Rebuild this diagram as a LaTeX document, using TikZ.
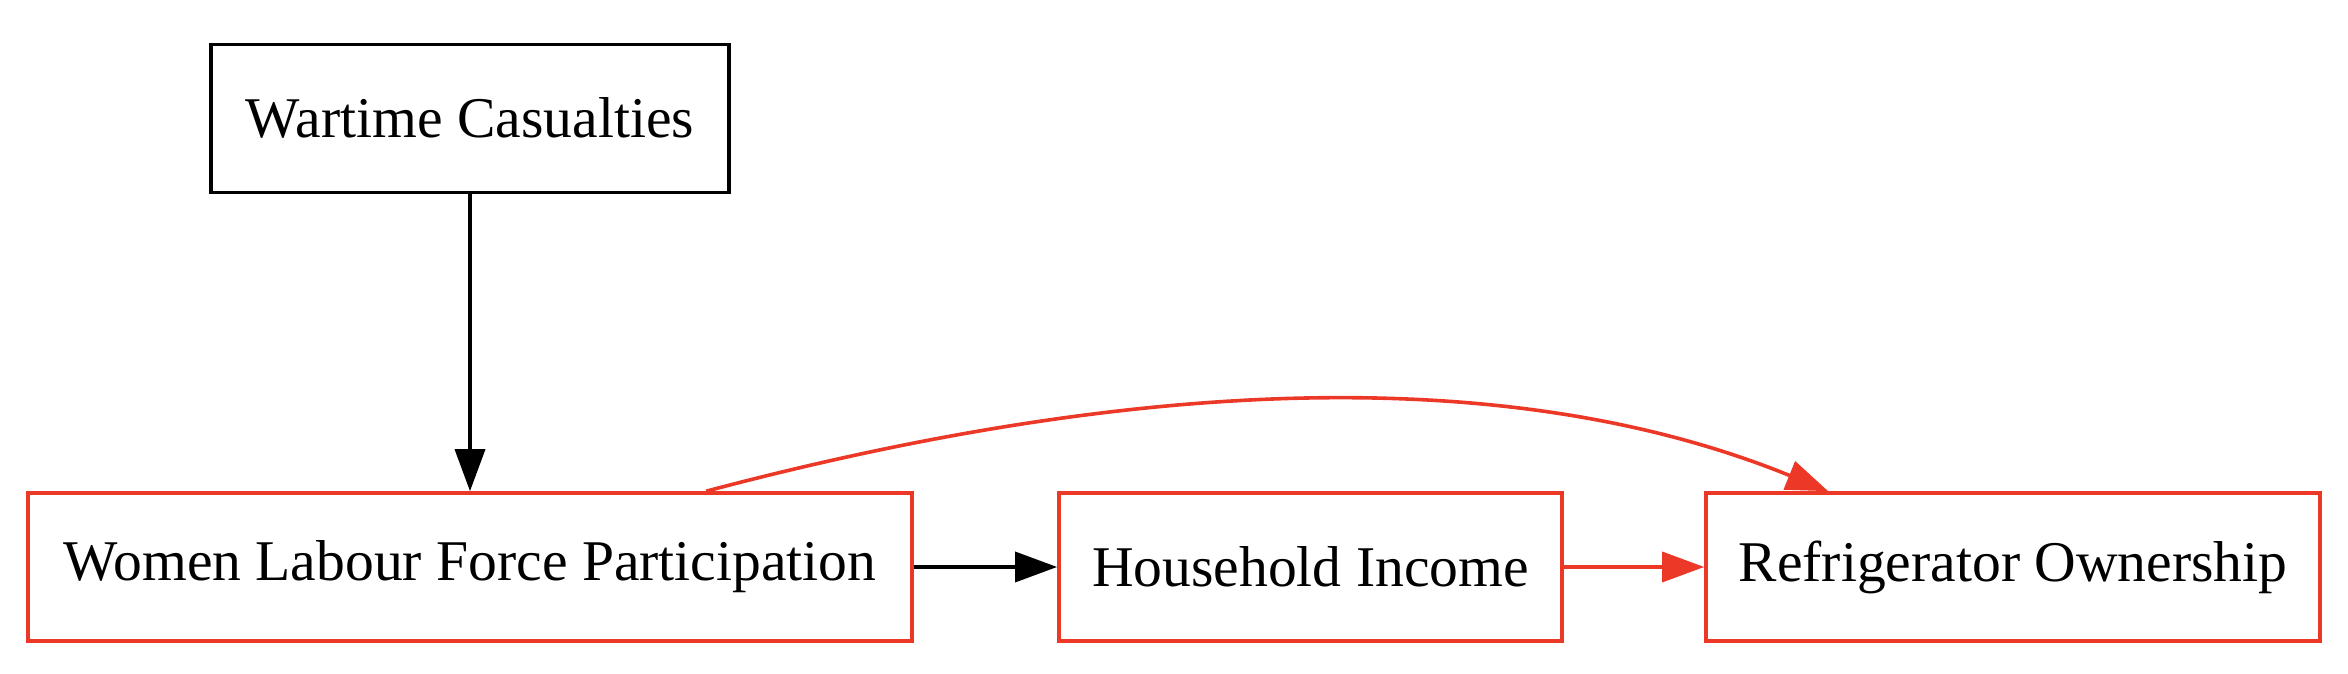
\documentclass[tikz,border=0pt]{standalone}
\usepackage{fontspec}
\setmainfont{Liberation Serif}
\usetikzlibrary{arrows.meta,calc}
\definecolor{gvred}{RGB}{236,56,38}
\begin{document}
\begin{tikzpicture}[x=1pt,y=1pt,
  box/.style={draw, line width=0.9pt, minimum height=37pt, inner sep=0pt, font=\fontsize{14.4}{16}\selectfont},
  redbox/.style={box, draw=gvred},
  edge/.style={line width=0.9pt, -{Triangle[length=10.5pt,width=7.5pt]}},
  rededge/.style={edge, color=gvred}]
\useasboundingbox (0,0) rectangle (587,168.5);
\node[box, minimum width=129.5pt] (wc) at (117.5,138.9) {Wartime Casualties};
\node[redbox, minimum width=221pt] (wlfp) at (117.5,26.75) {Women Labour Force Participation};
\node[redbox, minimum width=125.75pt] (hi) at (327.6,26.75) {Household Income};
\node[redbox, minimum width=153.5pt] (ro) at (503.25,26.75) {Refrigerator Ownership};
\coordinate (cs) at ($(wlfp.north west)+(170,0)$);
\coordinate (ce) at ($(ro.north west)+(31,0)$);
\draw[edge] (wc) -- (wlfp);
\draw[edge] (wlfp) -- (hi);
\draw[rededge] (hi) -- (ro);
\draw[rededge] (cs) .. controls ($(cs)+(115,30.5)$) and ($(ce)+(-75,30.5)$) .. (ce);
\end{tikzpicture}
\end{document}
